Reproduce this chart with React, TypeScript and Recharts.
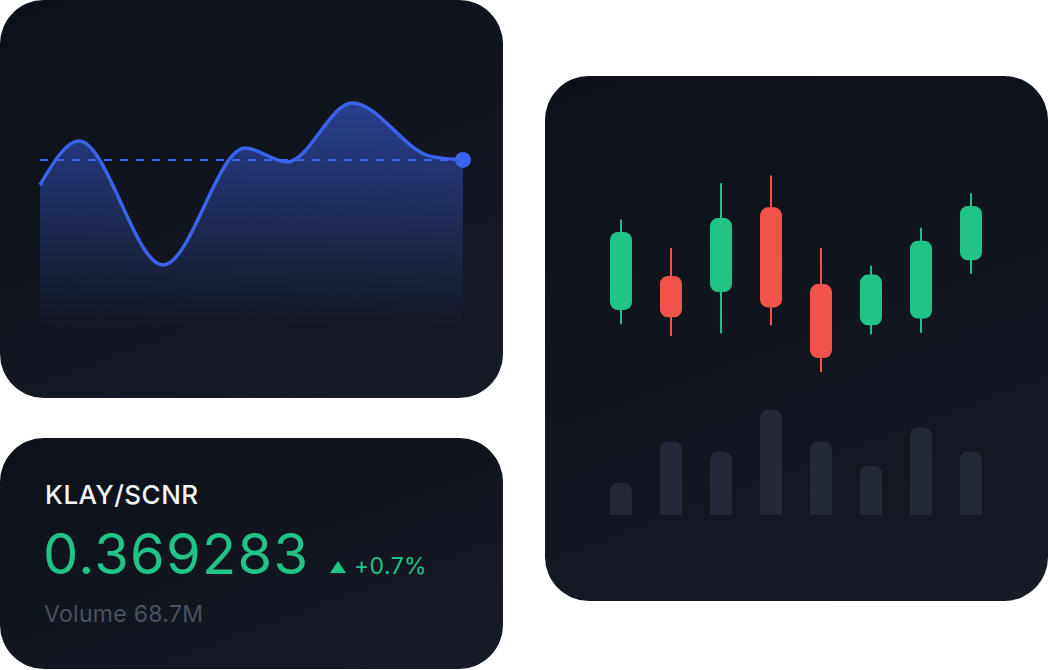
import React from "react";
import {
  AreaChart,
  Area,
  XAxis,
  YAxis,
  ReferenceLine,
  ComposedChart,
  BarChart,
  Bar,
  Cell,
} from "recharts";

// price line (x = time %, y = price index)
const lineTimes = [0, 9.2, 29.1, 48.5, 58.4, 73.8, 92.2, 100];
const linePrices = [53.7, 70.0, 24.1, 67.4, 62.2, 84.1, 64.4, 63.0];
const lastPrice = 63.0;

// candles
const candleDays = ["D1", "D2", "D3", "D4", "D5", "D6", "D7", "D8"];
const opens = [31.8, 47.3, 40.0, 78.5, 43.6, 24.9, 27.9, 54.4];
const closes = [67.3, 28.5, 73.6, 33.0, 10.0, 47.9, 63.3, 79.1];
const highs = [73.0, 60.0, 89.4, 93.0, 60.0, 51.8, 69.2, 84.9];
const lows = [25.3, 20.0, 21.2, 24.9, 3.6, 20.8, 21.5, 48.3];
const volumes = [4.0, 9.2, 7.95, 13.15, 9.2, 6.2, 10.95, 7.95];

// ticker
const pairName = "KLAY/SCNR";
const priceText = "0.369283";
const changeText = "+0.7%";
const volumeText = "Volume 68.7M";

const BLUE = "#3a63ee";
const GREEN = "#1fc486";
const RED = "#f2544c";
const FONT = "Inter, 'Noto Sans', sans-serif";

const lineData = lineTimes.map((t, i) => ({ t, price: linePrices[i] }));
const candleData = candleDays.map((day, i) => ({
  day,
  open: opens[i],
  close: closes[i],
  high: highs[i],
  low: lows[i],
  volume: volumes[i],
  up: closes[i] >= opens[i],
}));

const cardStyle: React.CSSProperties = {
  position: "absolute",
  borderRadius: 44,
  overflow: "hidden",
  background: "linear-gradient(160deg, #0c1018 0%, #12161f 55%, #171b25 100%)",
};

function LastDot(props: any) {
  const { cx, cy, index } = props;
  if (index !== lineData.length - 1) return <g key={`d${index}`} />;
  return <circle key={`d${index}`} cx={cx} cy={cy} r={8} fill={BLUE} />;
}

function PriceCard() {
  return (
    <div style={{ ...cardStyle, left: 0, top: 0, width: 503, height: 398 }}>
      <AreaChart
        width={503}
        height={398}
        data={lineData}
        margin={{ top: 60, right: 40, bottom: 68, left: 40 }}
      >
        <defs>
          <linearGradient id="priceFill" x1="0" y1="0" x2="0" y2="1">
            <stop offset="0%" stopColor={BLUE} stopOpacity={0.55} />
            <stop offset="100%" stopColor={BLUE} stopOpacity={0} />
          </linearGradient>
        </defs>
        <XAxis dataKey="t" type="number" domain={[0, 100]} hide />
        <YAxis domain={[0, 100]} hide />
        <Area
          type="monotone"
          dataKey="price"
          stroke={BLUE}
          strokeWidth={3.5}
          fill="url(#priceFill)"
          fillOpacity={1}
          dot={LastDot}
          activeDot={false}
          isAnimationActive={false}
        />
        <ReferenceLine
          y={lastPrice}
          stroke={BLUE}
          strokeWidth={2}
          strokeDasharray="8 8"
        />
      </AreaChart>
    </div>
  );
}

function TickerCard() {
  return (
    <div style={{ ...cardStyle, left: 0, top: 438, width: 503, height: 231 }}>
      <svg width={503} height={231} style={{ display: "block" }}>
        <text x={45} y={66} fill="#f4f5f7" fontSize={26} fontWeight={500} letterSpacing={0.5} fontFamily={FONT}>
          {pairName}
        </text>
        <text x={43} y={136} fill={GREEN} fontSize={56} fontWeight={400} letterSpacing={1.3} fontFamily={FONT}>
          {priceText}
        </text>
        <polygon points="330,135 346,135 338,123" fill={GREEN} />
        <text x={354} y={136} fill={GREEN} fontSize={23} fontWeight={400} letterSpacing={0.4} fontFamily={FONT}>
          {changeText}
        </text>
        <text x={44} y={184} fill="#4a5161" fontSize={23} fontWeight={400} letterSpacing={0.3} fontFamily={FONT}>
          {volumeText}
        </text>
      </svg>
    </div>
  );
}

function CandleCard() {
  return (
    <div style={{ ...cardStyle, left: 545, top: 76, width: 503, height: 525 }}>
      <div style={{ position: "absolute", left: 0, top: 0 }}>
        <ComposedChart
          width={503}
          height={525}
          data={candleData}
          margin={{ top: 84, right: 52, bottom: 221, left: 51 }}
        >
          <XAxis xAxisId="wick" dataKey="day" hide />
          <XAxis xAxisId="body" dataKey="day" hide />
          <YAxis domain={[0, 100]} hide />
          <Bar
            xAxisId="wick"
            dataKey={(d: any) => [d.low, d.high]}
            barSize={2}
            isAnimationActive={false}
          >
            {candleData.map((d, i) => (
              <Cell key={i} fill={d.up ? GREEN : RED} />
            ))}
          </Bar>
          <Bar
            xAxisId="body"
            dataKey={(d: any) => [Math.min(d.open, d.close), Math.max(d.open, d.close)]}
            barSize={22}
            radius={8}
            isAnimationActive={false}
          >
            {candleData.map((d, i) => (
              <Cell key={i} fill={d.up ? GREEN : RED} />
            ))}
          </Bar>
        </ComposedChart>
      </div>
      <div style={{ position: "absolute", left: 0, top: 0 }}>
        <BarChart
          width={503}
          height={525}
          data={candleData}
          margin={{ top: 327, right: 52, bottom: 86, left: 51 }}
        >
          <XAxis dataKey="day" hide />
          <YAxis domain={[0, 14]} hide />
          <Bar
            dataKey="volume"
            barSize={22}
            radius={[8, 8, 0, 0]}
            fill="#232937"
            isAnimationActive={false}
          />
        </BarChart>
      </div>
    </div>
  );
}

export default function App() {
  return (
    <div
      style={{
        position: "absolute",
        left: 0,
        top: 0,
        width: 1048,
        height: 670,
        background: "#ffffff",
        fontFamily: FONT,
      }}
    >
      <PriceCard />
      <TickerCard />
      <CandleCard />
    </div>
  );
}
